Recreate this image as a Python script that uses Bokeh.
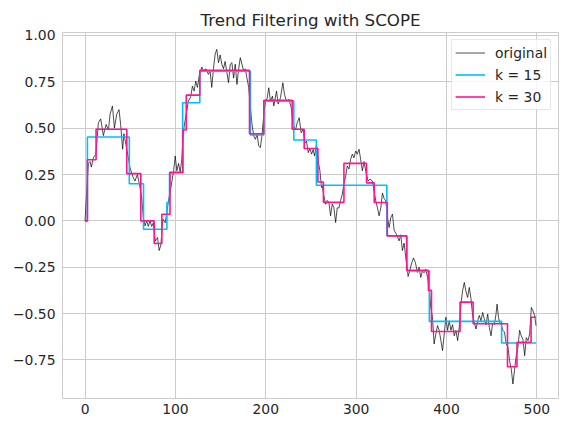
from bokeh.plotting import figure
from bokeh.models import Range1d, FixedTicker, Legend, LegendItem
from bokeh.embed import file_html
from bokeh.resources import INLINE

# ---- data ----
orig_x = [0, 1, 3.7, 5.5, 7, 9.2, 12, 14.8, 17.3, 20.3, 23.3, 25.9, 27.7, 30.3, 32.5, 35, 37.6, 39.4,
          41.6, 43, 45.3, 47.9, 49.8, 52.7, 55.3, 57.9, 60.1, 62.7, 64.5, 66.4, 68.2, 70, 71.9, 73.8,
          75.6, 77.6, 80.2, 82, 83.9, 86, 88.7, 90.6, 92.4, 95, 98, 99.8, 101.6, 103.5, 105.3, 107,
          108.9, 110.7, 112.5, 114.4, 117, 118.8, 120.7, 122.5, 124.4, 126.6, 129.2, 131, 134, 136.5,
          138.4, 140.2, 142.1, 144, 145.8, 147.7, 149.5, 151.4, 153.2, 155, 157, 158.8, 160.7, 162.5,
          164.4, 166.2, 168.1, 170, 171.8, 173.6, 175.5, 177.3, 179.2, 181.1, 183, 184.8, 186.7, 188.5,
          190.4, 192.2, 194, 195.9, 197.8, 199.6, 201.5, 203.3, 205.2, 207.4, 208.9, 211.9, 213.7,
          216.3, 218.9, 220.7, 223, 225.6, 228.2, 230.4, 233, 234.8, 237, 239.2, 241.4, 243.3, 245.1,
          247, 248.8, 250.7, 252.5, 254, 256.2, 258, 259.9, 261.7, 262.5, 264.3, 266.2, 268, 269.9,
          271.7, 273.6, 275.4, 277.3, 279.1, 281, 282.8, 284.7, 286.5, 288.4, 290.2, 292.1, 293.9,
          295.8, 297.6, 299.5, 301.3, 303.2, 305, 306.9, 308.7, 311, 313.2, 315.4, 318, 319.9, 321.7,
          323.6, 325.4, 327.3, 329.1, 331, 332.8, 334.7, 336.5, 338.4, 340.2, 342, 344.9, 347.5, 349.4,
          351.2, 353.1, 355, 356.9, 357.5, 359.3, 361.2, 363.4, 365.6, 367.8, 369.7, 371.5, 373.4,
          375.2, 377.1, 379, 380.8, 382.6, 384.5, 386.3, 388.2, 390.1, 391.9, 393.8, 395.6, 397.5,
          399.3, 401.2, 403, 404.9, 406.7, 408.6, 410.4, 412.3, 414.1, 416, 417.8, 419.7, 421.5, 423.4,
          425.2, 427.1, 428.9, 430.8, 432.6, 434.5, 436.3, 438.2, 440, 441.9, 443.7, 445.6, 447.4,
          449.3, 451.1, 453, 454.8, 456, 457.5, 459, 460.5, 462.4, 464.2, 466.1, 468, 469.8, 471.7,
          473.5, 475.4, 477.2, 479.1, 480.9, 482.8, 484.6, 486.5, 488.3, 490.2, 492, 493.9, 495.7,
          497.6, 499]
orig_y = [0.0, 0.09, 0.31, 0.32, 0.29, 0.34, 0.36, 0.53, 0.55, 0.46, 0.52, 0.49, 0.575, 0.62, 0.50, 0.575,
          0.60, 0.52, 0.386, 0.47, 0.41, 0.34, 0.287, 0.24, 0.215, 0.25, 0.20, 0.125, 0.018, -0.027, 0.0,
          -0.03, 0.0, -0.03, -0.01, -0.108, -0.09, -0.16, -0.13, 0.01, -0.01, 0.045, 0.11, 0.18, 0.27,
          0.35, 0.27, 0.31, 0.26, 0.33, 0.485, 0.54, 0.59, 0.646, 0.67, 0.727, 0.70, 0.754, 0.72, 0.79,
          0.83, 0.81, 0.82, 0.79, 0.81, 0.72, 0.82, 0.90, 0.925, 0.853, 0.895, 0.845, 0.82, 0.86, 0.80,
          0.745, 0.845, 0.853, 0.77, 0.845, 0.736, 0.82, 0.88, 0.845, 0.81, 0.82, 0.77, 0.72, 0.61, 0.52,
          0.458, 0.44, 0.467, 0.404, 0.395, 0.465, 0.575, 0.646, 0.66, 0.718, 0.645, 0.673, 0.62, 0.70,
          0.63, 0.664, 0.745, 0.682, 0.645, 0.655, 0.61, 0.52, 0.49, 0.53, 0.556, 0.475, 0.494, 0.42,
          0.43, 0.368, 0.39, 0.36, 0.385, 0.35, 0.41, 0.323, 0.27, 0.18, 0.19, 0.135, 0.09, 0.11, 0.10,
          0.027, 0.09, 0.072, -0.009, 0.07, 0.07, 0.11, 0.144, 0.2, 0.24, 0.296, 0.28, 0.332, 0.36, 0.34,
          0.377, 0.36, 0.386, 0.332, 0.27, 0.32, 0.26, 0.215, 0.225, 0.215, 0.16, 0.108, 0.07, 0.027,
          0.07, 0.15, 0.12, 0.108, 0.018, -0.036, 0.018, 0.036, -0.05, -0.075, -0.108, -0.075, -0.16,
          -0.12, -0.2, -0.27, -0.30, -0.27, -0.233, -0.2, -0.225, -0.278, -0.25, -0.305, -0.27, -0.28,
          -0.26, -0.305, -0.359, -0.467, -0.52, -0.664, -0.61, -0.565, -0.59, -0.646, -0.70, -0.61,
          -0.52, -0.59, -0.539, -0.59, -0.56, -0.62, -0.59, -0.646, -0.575, -0.449, -0.377, -0.332,
          -0.38, -0.413, -0.359, -0.42, -0.51, -0.548, -0.583, -0.539, -0.51, -0.539, -0.494, -0.53,
          -0.56, -0.503, -0.575, -0.62, -0.55, -0.56, -0.503, -0.449, -0.52, -0.55, -0.56, -0.59, -0.6,
          -0.664, -0.68, -0.754, -0.8, -0.88, -0.8, -0.727, -0.68, -0.59, -0.62, -0.64, -0.727, -0.63,
          -0.646, -0.61, -0.467, -0.485, -0.51, -0.565]

k15_x = [0, 2.6, 49, 64.7, 90.6, 93.5, 108, 127, 183, 197.8, 231, 256, 334, 356, 381, 461]
k15_y = [0.0, 0.452, 0.20, -0.045, 0.099, 0.262, 0.637, 0.807, 0.463, 0.647, 0.436, 0.192,
         -0.08, -0.27, -0.542, -0.659]

k30_x = [0, 2.6, 12.2, 46.2, 61.7, 76.5, 85, 94, 108.3, 112, 127, 182, 197.8, 229.2, 242.5,
         257.7, 263.8, 286.5, 311.5, 320, 334.5, 356, 380, 383.4, 415, 429.5, 467.5, 478, 493.6]
k30_y = [0.0, 0.33, 0.494, 0.255, 0.0, -0.122, 0.036, 0.26, 0.49, 0.678, 0.812, 0.47, 0.65,
         0.494, 0.39, 0.21, 0.10, 0.31, 0.205, 0.099, -0.081, -0.266, -0.375, -0.597, -0.438,
         -0.555, -0.787, -0.655, -0.52]

x_end = 499
x_ticks = [0, 100, 200, 300, 400, 500]
y_ticks = [-0.75, -0.5, -0.25, 0.0, 0.25, 0.5, 0.75, 1.0]
y_tick_labels = ["\u22120.75", "\u22120.50", "\u22120.25", "0.00", "0.25", "0.50", "0.75", "1.00"]

FONT = "DejaVu Sans"
TXT = "#262626"
GRID = "#cccccc"

p = figure(width=559, height=427, output_backend="svg", toolbar_location=None,
           x_range=Range1d(-24.95, 523.95), y_range=Range1d(-0.958, 1.016),
           min_border_left=62, min_border_right=1, min_border_top=32, min_border_bottom=29)

p.title.text = "Trend Filtering with SCOPE"
p.title.align = "center"
p.title.text_font = FONT
p.title.text_font_size = "16.7px"
p.title.text_font_style = "normal"
p.title.text_color = TXT
p.title.standoff = 5

p.background_fill_color = "white"
p.border_fill_color = "white"
p.outline_line_color = GRID
p.outline_line_width = 1

for ax in (p.xaxis[0], p.yaxis[0]):
    ax.axis_line_color = None
    ax.major_tick_line_color = None
    ax.minor_tick_line_color = None
    ax.major_tick_out = 0
    ax.major_tick_in = 0
    ax.major_label_text_font = FONT
    ax.major_label_text_font_size = "13.9px"
    ax.major_label_text_color = TXT

p.xaxis[0].ticker = FixedTicker(ticks=x_ticks)
p.xaxis[0].major_label_standoff = 5
p.yaxis[0].ticker = FixedTicker(ticks=y_ticks)
p.yaxis[0].major_label_overrides = {t: l for t, l in zip(y_ticks, y_tick_labels)}
p.yaxis[0].major_label_standoff = 7

p.xgrid.grid_line_color = GRID
p.ygrid.grid_line_color = GRID
p.xgrid.grid_line_width = 1
p.ygrid.grid_line_width = 1

r0 = p.line(orig_x, orig_y, line_color="black", line_width=0.7)
r1 = p.step(k15_x + [x_end], k15_y + [k15_y[-1]], mode="after", line_color="#00BFFF", line_width=1.6)
r2 = p.step(k30_x + [x_end], k30_y + [k30_y[-1]], mode="after", line_color="#FF1493", line_width=1.6)

legend = Legend(items=[LegendItem(label="original", renderers=[r0]),
                       LegendItem(label="k = 15", renderers=[r1]),
                       LegendItem(label="k = 30", renderers=[r2])],
                location="top_right")
legend.label_text_font = FONT
legend.label_text_font_size = "13.9px"
legend.label_text_color = TXT
legend.border_line_color = "#d0d0d0"
legend.border_line_width = 1
legend.background_fill_alpha = 0.8
legend.margin = 7
legend.padding = 3
legend.spacing = 3
legend.glyph_width = 30
legend.glyph_height = 19
legend.label_height = 19
legend.label_standoff = 10
p.add_layout(legend)

open("out.html", "w").write(file_html(p, INLINE))
